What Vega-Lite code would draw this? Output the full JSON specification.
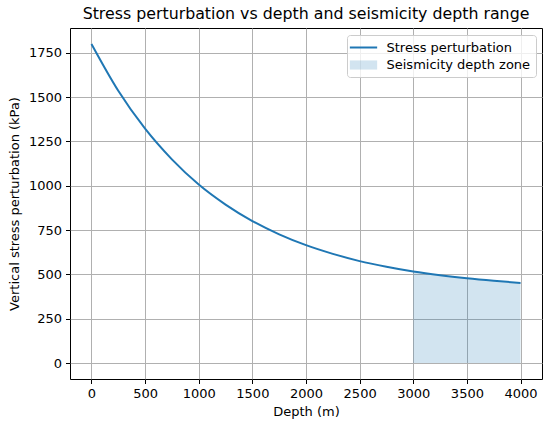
{
  "$schema": "https://vega.github.io/schema/vega-lite/v6.json",
  "width": 472,
  "height": 351,
  "autosize": {"type": "none"},
  "padding": {"left": 70, "top": 28, "right": 8, "bottom": 50},
  "background": "white",
  "title": {
    "text": "Stress perturbation vs depth and seismicity depth range",
    "font": "DejaVu Sans",
    "fontSize": 15.8,
    "fontWeight": "normal",
    "color": "#000",
    "anchor": "middle",
    "offset": 5
  },
  "data": {
    "values": [
      {"depth": 0, "stress": 1800},
      {"depth": 250, "stress": 1536},
      {"depth": 500, "stress": 1322},
      {"depth": 750, "stress": 1149},
      {"depth": 1000, "stress": 1007},
      {"depth": 1250, "stress": 894},
      {"depth": 1500, "stress": 801},
      {"depth": 1750, "stress": 726},
      {"depth": 2000, "stress": 665},
      {"depth": 2250, "stress": 616},
      {"depth": 2500, "stress": 575},
      {"depth": 2750, "stress": 543},
      {"depth": 3000, "stress": 516},
      {"depth": 3250, "stress": 495},
      {"depth": 3500, "stress": 478},
      {"depth": 3750, "stress": 464},
      {"depth": 4000, "stress": 452}
    ]
  },
  "encoding": {
    "x": {
      "field": "depth",
      "type": "quantitative",
      "title": "Depth (m)",
      "scale": {"domain": [-200, 4200], "nice": false, "zero": false},
      "axis": {"values": [0, 500, 1000, 1500, 2000, 2500, 3000, 3500, 4000], "format": "d", "titlePadding": 5}
    },
    "y": {
      "field": "stress",
      "type": "quantitative",
      "title": "Vertical stress perturbation (kPa)",
      "scale": {"domain": [-90, 1890], "nice": false, "zero": false},
      "axis": {"values": [0, 250, 500, 750, 1000, 1250, 1500, 1750], "format": "d", "titlePadding": 7}
    }
  },
  "layer": [
    {
      "transform": [{"filter": "datum.depth >= 3000"}],
      "mark": {"type": "area", "fillOpacity": 0.2, "interpolate": "monotone"},
      "encoding": {
        "y2": {"datum": 0},
        "color": {"datum": "Seismicity depth zone"}
      }
    },
    {
      "mark": {"type": "line", "strokeWidth": 2, "interpolate": "monotone"},
      "encoding": {
        "color": {
          "datum": "Stress perturbation",
          "scale": {
            "domain": ["Stress perturbation", "Seismicity depth zone"],
            "range": ["#1f77b4", "#1f77b4"]
          },
          "legend": {
            "title": null,
            "orient": "top-right",
            "offset": 6.5,
            "padding": 5,
            "rowPadding": 2.5,
            "symbolOffset": 4,
            "labelOffset": 15.5,
            "symbolSize": 169,
            "labelFont": "DejaVu Sans",
            "labelFontSize": 13,
            "labelColor": "#000",
            "strokeColor": "#cccccc",
            "fillColor": "rgba(255,255,255,0.8)",
            "cornerRadius": 3,
            "encode": {
              "symbols": {
                "update": {
                  "shape": [
                    {"test": "datum.value === 'Stress perturbation'", "value": "M-2.1,0H2.1"},
                    {"value": "M-2.1,-0.7H2.1V0.7H-2.1Z"}
                  ],
                  "fill": {"value": "#1f77b4"},
                  "stroke": {"value": "#1f77b4"},
                  "fillOpacity": [
                    {"test": "datum.value === 'Stress perturbation'", "value": 0},
                    {"value": 0.2}
                  ],
                  "strokeOpacity": [
                    {"test": "datum.value === 'Stress perturbation'", "value": 1},
                    {"value": 0}
                  ],
                  "strokeWidth": {"value": 2},
                  "opacity": {"value": 1}
                }
              }
            }
          }
        }
      }
    }
  ],
  "config": {
    "view": {"stroke": "#000", "strokeWidth": 1},
    "axis": {
      "labelFont": "DejaVu Sans",
      "labelFontSize": 13,
      "labelColor": "#000",
      "titleFont": "DejaVu Sans",
      "titleFontSize": 13,
      "titleFontWeight": "normal",
      "titleColor": "#000",
      "tickColor": "#000",
      "tickSize": 4.5,
      "tickWidth": 1,
      "labelPadding": 4,
      "domain": false,
      "grid": true,
      "gridColor": "#b0b0b0",
      "gridWidth": 1,
      "labelFlush": false,
      "labelOverlap": false,
      "labelBound": false
    }
  }
}
